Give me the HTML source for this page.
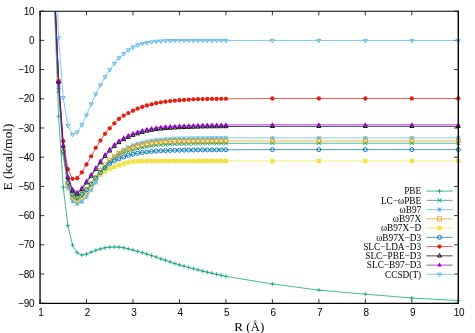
<!DOCTYPE html><html><head><meta charset="utf-8"><style>html,body{margin:0;padding:0;background:#fff}svg{display:block;will-change:transform}text{font-family:"Liberation Sans",sans-serif}.s{font-family:"Liberation Serif",serif}</style></head><body>
<svg width="475" height="333" viewBox="0 0 475 333">
<rect width="475" height="333" fill="#fff"/>
<defs><clipPath id="c"><rect x="40.0" y="11.15" width="418.3" height="292.1"/></clipPath></defs>
<path d="M40.00 303.25V299.05M40.00 11.15V15.350000000000001M86.48 303.25V299.05M86.48 11.15V15.350000000000001M132.96 303.25V299.05M132.96 11.15V15.350000000000001M179.43 303.25V299.05M179.43 11.15V15.350000000000001M225.91 303.25V299.05M225.91 11.15V15.350000000000001M272.39 303.25V299.05M272.39 11.15V15.350000000000001M318.87 303.25V299.05M318.87 11.15V15.350000000000001M365.34 303.25V299.05M365.34 11.15V15.350000000000001M411.82 303.25V299.05M411.82 11.15V15.350000000000001M458.30 303.25V299.05M458.30 11.15V15.350000000000001M40.0 303.25H44.2M458.3 303.25H454.1M40.0 274.04H44.2M458.3 274.04H454.1M40.0 244.83H44.2M458.3 244.83H454.1M40.0 215.62H44.2M458.3 215.62H454.1M40.0 186.41H44.2M458.3 186.41H454.1M40.0 157.20H44.2M458.3 157.20H454.1M40.0 127.99H44.2M458.3 127.99H454.1M40.0 98.78H44.2M458.3 98.78H454.1M40.0 69.57H44.2M458.3 69.57H454.1M40.0 40.36H44.2M458.3 40.36H454.1M40.0 11.15H44.2M458.3 11.15H454.1" stroke="#000" stroke-width="0.8" fill="none"/>
<text x="40.80" y="316.2" font-size="10" text-anchor="middle" letter-spacing="-0.3">1</text>
<text x="87.28" y="316.2" font-size="10" text-anchor="middle" letter-spacing="-0.3">2</text>
<text x="133.76" y="316.2" font-size="10" text-anchor="middle" letter-spacing="-0.3">3</text>
<text x="180.23" y="316.2" font-size="10" text-anchor="middle" letter-spacing="-0.3">4</text>
<text x="226.71" y="316.2" font-size="10" text-anchor="middle" letter-spacing="-0.3">5</text>
<text x="273.19" y="316.2" font-size="10" text-anchor="middle" letter-spacing="-0.3">6</text>
<text x="319.67" y="316.2" font-size="10" text-anchor="middle" letter-spacing="-0.3">7</text>
<text x="366.14" y="316.2" font-size="10" text-anchor="middle" letter-spacing="-0.3">8</text>
<text x="412.62" y="316.2" font-size="10" text-anchor="middle" letter-spacing="-0.3">9</text>
<text x="459.10" y="316.2" font-size="10" text-anchor="middle" letter-spacing="-0.3">10</text>
<text x="34.2" y="306.85" font-size="10" text-anchor="end" letter-spacing="-0.4">−90</text>
<text x="34.2" y="277.64" font-size="10" text-anchor="end" letter-spacing="-0.4">−80</text>
<text x="34.2" y="248.43" font-size="10" text-anchor="end" letter-spacing="-0.4">−70</text>
<text x="34.2" y="219.22" font-size="10" text-anchor="end" letter-spacing="-0.4">−60</text>
<text x="34.2" y="190.01" font-size="10" text-anchor="end" letter-spacing="-0.4">−50</text>
<text x="34.2" y="160.80" font-size="10" text-anchor="end" letter-spacing="-0.4">−40</text>
<text x="34.2" y="131.59" font-size="10" text-anchor="end" letter-spacing="-0.4">−30</text>
<text x="34.2" y="102.38" font-size="10" text-anchor="end" letter-spacing="-0.4">−20</text>
<text x="34.2" y="73.17" font-size="10" text-anchor="end" letter-spacing="-0.4">−10</text>
<text x="34.2" y="43.96" font-size="10" text-anchor="end" letter-spacing="-0.4">0</text>
<text x="34.2" y="14.75" font-size="10" text-anchor="end" letter-spacing="-0.4">10</text>
<g>
<polyline clip-path="url(#c)" points="53.94,-6.38 58.59,116.31 63.24,187.29 67.89,225.55 72.53,245.12 77.18,252.72 81.83,255.05 86.48,254.18 91.13,252.13 95.77,250.38 100.42,248.92 105.07,247.75 109.72,247.17 114.36,247.02 119.01,247.17 123.66,247.75 128.31,248.92 132.96,250.09 137.60,251.26 142.25,252.72 146.90,254.18 151.55,255.64 156.19,257.10 160.84,258.85 165.49,260.31 170.14,261.92 174.79,263.52 179.43,264.98 184.08,266.21 188.73,267.44 193.38,268.67 198.02,269.89 202.67,271.12 207.32,272.17 211.97,273.22 216.62,274.27 221.26,275.33 225.91,276.38 272.39,283.97 318.87,290.11 365.34,294.19 411.82,297.99 458.30,300.62" fill="none" stroke="#009e73" stroke-width="0.72" stroke-linejoin="round"/>
<path d="M56.39 116.31H60.79M58.59 114.11V118.51" stroke="#009e73" stroke-width="0.75" fill="none"/>
<path d="M61.04 187.29H65.44M63.24 185.09V189.49" stroke="#009e73" stroke-width="0.75" fill="none"/>
<path d="M65.69 225.55H70.09M67.89 223.35V227.75" stroke="#009e73" stroke-width="0.75" fill="none"/>
<path d="M70.33 245.12H74.73M72.53 242.92V247.32" stroke="#009e73" stroke-width="0.75" fill="none"/>
<path d="M74.98 252.72H79.38M77.18 250.52V254.92" stroke="#009e73" stroke-width="0.75" fill="none"/>
<path d="M79.63 255.05H84.03M81.83 252.85V257.25" stroke="#009e73" stroke-width="0.75" fill="none"/>
<path d="M84.28 254.18H88.68M86.48 251.98V256.38" stroke="#009e73" stroke-width="0.75" fill="none"/>
<path d="M88.93 252.13H93.33M91.13 249.93V254.33" stroke="#009e73" stroke-width="0.75" fill="none"/>
<path d="M93.57 250.38H97.97M95.77 248.18V252.58" stroke="#009e73" stroke-width="0.75" fill="none"/>
<path d="M98.22 248.92H102.62M100.42 246.72V251.12" stroke="#009e73" stroke-width="0.75" fill="none"/>
<path d="M102.87 247.75H107.27M105.07 245.55V249.95" stroke="#009e73" stroke-width="0.75" fill="none"/>
<path d="M107.52 247.17H111.92M109.72 244.97V249.37" stroke="#009e73" stroke-width="0.75" fill="none"/>
<path d="M112.16 247.02H116.56M114.36 244.82V249.22" stroke="#009e73" stroke-width="0.75" fill="none"/>
<path d="M116.81 247.17H121.21M119.01 244.97V249.37" stroke="#009e73" stroke-width="0.75" fill="none"/>
<path d="M121.46 247.75H125.86M123.66 245.55V249.95" stroke="#009e73" stroke-width="0.75" fill="none"/>
<path d="M126.11 248.92H130.51M128.31 246.72V251.12" stroke="#009e73" stroke-width="0.75" fill="none"/>
<path d="M130.76 250.09H135.16M132.96 247.89V252.29" stroke="#009e73" stroke-width="0.75" fill="none"/>
<path d="M135.40 251.26H139.80M137.60 249.06V253.46" stroke="#009e73" stroke-width="0.75" fill="none"/>
<path d="M140.05 252.72H144.45M142.25 250.52V254.92" stroke="#009e73" stroke-width="0.75" fill="none"/>
<path d="M144.70 254.18H149.10M146.90 251.98V256.38" stroke="#009e73" stroke-width="0.75" fill="none"/>
<path d="M149.35 255.64H153.75M151.55 253.44V257.84" stroke="#009e73" stroke-width="0.75" fill="none"/>
<path d="M153.99 257.10H158.39M156.19 254.90V259.30" stroke="#009e73" stroke-width="0.75" fill="none"/>
<path d="M158.64 258.85H163.04M160.84 256.65V261.05" stroke="#009e73" stroke-width="0.75" fill="none"/>
<path d="M163.29 260.31H167.69M165.49 258.11V262.51" stroke="#009e73" stroke-width="0.75" fill="none"/>
<path d="M167.94 261.92H172.34M170.14 259.72V264.12" stroke="#009e73" stroke-width="0.75" fill="none"/>
<path d="M172.59 263.52H176.99M174.79 261.32V265.72" stroke="#009e73" stroke-width="0.75" fill="none"/>
<path d="M177.23 264.98H181.63M179.43 262.78V267.18" stroke="#009e73" stroke-width="0.75" fill="none"/>
<path d="M181.88 266.21H186.28M184.08 264.01V268.41" stroke="#009e73" stroke-width="0.75" fill="none"/>
<path d="M186.53 267.44H190.93M188.73 265.24V269.64" stroke="#009e73" stroke-width="0.75" fill="none"/>
<path d="M191.18 268.67H195.58M193.38 266.47V270.87" stroke="#009e73" stroke-width="0.75" fill="none"/>
<path d="M195.82 269.89H200.22M198.02 267.69V272.09" stroke="#009e73" stroke-width="0.75" fill="none"/>
<path d="M200.47 271.12H204.87M202.67 268.92V273.32" stroke="#009e73" stroke-width="0.75" fill="none"/>
<path d="M205.12 272.17H209.52M207.32 269.97V274.37" stroke="#009e73" stroke-width="0.75" fill="none"/>
<path d="M209.77 273.22H214.17M211.97 271.02V275.42" stroke="#009e73" stroke-width="0.75" fill="none"/>
<path d="M214.42 274.27H218.82M216.62 272.07V276.47" stroke="#009e73" stroke-width="0.75" fill="none"/>
<path d="M219.06 275.33H223.46M221.26 273.13V277.53" stroke="#009e73" stroke-width="0.75" fill="none"/>
<path d="M223.71 276.38H228.11M225.91 274.18V278.58" stroke="#009e73" stroke-width="0.75" fill="none"/>
<path d="M270.19 283.97H274.59M272.39 281.77V286.17" stroke="#009e73" stroke-width="0.75" fill="none"/>
<path d="M316.67 290.11H321.07M318.87 287.91V292.31" stroke="#009e73" stroke-width="0.75" fill="none"/>
<path d="M363.14 294.19H367.54M365.34 291.99V296.39" stroke="#009e73" stroke-width="0.75" fill="none"/>
<path d="M409.62 297.99H414.02M411.82 295.79V300.19" stroke="#009e73" stroke-width="0.75" fill="none"/>
<path d="M456.10 300.62H460.50M458.30 298.42V302.82" stroke="#009e73" stroke-width="0.75" fill="none"/>
<polyline clip-path="url(#c)" points="53.94,-12.22 58.59,90.60 63.24,154.28 67.89,184.95 72.53,197.51 77.18,199.85 81.83,196.93 86.48,192.25 91.13,183.49 95.77,177.06 100.42,171.22 105.07,165.96 109.72,161.58 114.36,158.08 119.01,155.16 123.66,152.82 128.31,151.36 132.96,149.90 137.60,148.73 142.25,147.56 146.90,146.68 151.55,145.81 156.19,145.22 160.84,144.79 165.49,144.49 170.14,144.20 174.79,144.06 179.43,143.91 184.08,143.82 188.73,143.73 193.38,143.65 198.02,143.56 202.67,143.47 207.32,143.44 211.97,143.41 216.62,143.38 221.26,143.35 225.91,143.33 272.39,143.18 318.87,143.18 365.34,143.18 411.82,143.18 458.30,143.18" fill="none" stroke="#009e73" stroke-width="0.72" stroke-linejoin="round"/>
<path d="M56.59 88.60L60.59 92.60M56.59 92.60L60.59 88.60" stroke="#009e73" stroke-width="0.95" fill="none"/>
<path d="M61.24 152.28L65.24 156.28M61.24 156.28L65.24 152.28" stroke="#009e73" stroke-width="0.95" fill="none"/>
<path d="M65.89 182.95L69.89 186.95M65.89 186.95L69.89 182.95" stroke="#009e73" stroke-width="0.95" fill="none"/>
<path d="M70.53 195.51L74.53 199.51M70.53 199.51L74.53 195.51" stroke="#009e73" stroke-width="0.95" fill="none"/>
<path d="M75.18 197.85L79.18 201.85M75.18 201.85L79.18 197.85" stroke="#009e73" stroke-width="0.95" fill="none"/>
<path d="M79.83 194.93L83.83 198.93M79.83 198.93L83.83 194.93" stroke="#009e73" stroke-width="0.95" fill="none"/>
<path d="M84.48 190.25L88.48 194.25M84.48 194.25L88.48 190.25" stroke="#009e73" stroke-width="0.95" fill="none"/>
<path d="M89.13 181.49L93.13 185.49M89.13 185.49L93.13 181.49" stroke="#009e73" stroke-width="0.95" fill="none"/>
<path d="M93.77 175.06L97.77 179.06M93.77 179.06L97.77 175.06" stroke="#009e73" stroke-width="0.95" fill="none"/>
<path d="M98.42 169.22L102.42 173.22M98.42 173.22L102.42 169.22" stroke="#009e73" stroke-width="0.95" fill="none"/>
<path d="M103.07 163.96L107.07 167.96M103.07 167.96L107.07 163.96" stroke="#009e73" stroke-width="0.95" fill="none"/>
<path d="M107.72 159.58L111.72 163.58M107.72 163.58L111.72 159.58" stroke="#009e73" stroke-width="0.95" fill="none"/>
<path d="M112.36 156.08L116.36 160.08M112.36 160.08L116.36 156.08" stroke="#009e73" stroke-width="0.95" fill="none"/>
<path d="M117.01 153.16L121.01 157.16M117.01 157.16L121.01 153.16" stroke="#009e73" stroke-width="0.95" fill="none"/>
<path d="M121.66 150.82L125.66 154.82M121.66 154.82L125.66 150.82" stroke="#009e73" stroke-width="0.95" fill="none"/>
<path d="M126.31 149.36L130.31 153.36M126.31 153.36L130.31 149.36" stroke="#009e73" stroke-width="0.95" fill="none"/>
<path d="M130.96 147.90L134.96 151.90M130.96 151.90L134.96 147.90" stroke="#009e73" stroke-width="0.95" fill="none"/>
<path d="M135.60 146.73L139.60 150.73M135.60 150.73L139.60 146.73" stroke="#009e73" stroke-width="0.95" fill="none"/>
<path d="M140.25 145.56L144.25 149.56M140.25 149.56L144.25 145.56" stroke="#009e73" stroke-width="0.95" fill="none"/>
<path d="M144.90 144.68L148.90 148.68M144.90 148.68L148.90 144.68" stroke="#009e73" stroke-width="0.95" fill="none"/>
<path d="M149.55 143.81L153.55 147.81M149.55 147.81L153.55 143.81" stroke="#009e73" stroke-width="0.95" fill="none"/>
<path d="M154.19 143.22L158.19 147.22M154.19 147.22L158.19 143.22" stroke="#009e73" stroke-width="0.95" fill="none"/>
<path d="M158.84 142.79L162.84 146.79M158.84 146.79L162.84 142.79" stroke="#009e73" stroke-width="0.95" fill="none"/>
<path d="M163.49 142.49L167.49 146.49M163.49 146.49L167.49 142.49" stroke="#009e73" stroke-width="0.95" fill="none"/>
<path d="M168.14 142.20L172.14 146.20M168.14 146.20L172.14 142.20" stroke="#009e73" stroke-width="0.95" fill="none"/>
<path d="M172.79 142.06L176.79 146.06M172.79 146.06L176.79 142.06" stroke="#009e73" stroke-width="0.95" fill="none"/>
<path d="M177.43 141.91L181.43 145.91M177.43 145.91L181.43 141.91" stroke="#009e73" stroke-width="0.95" fill="none"/>
<path d="M182.08 141.82L186.08 145.82M182.08 145.82L186.08 141.82" stroke="#009e73" stroke-width="0.95" fill="none"/>
<path d="M186.73 141.73L190.73 145.73M186.73 145.73L190.73 141.73" stroke="#009e73" stroke-width="0.95" fill="none"/>
<path d="M191.38 141.65L195.38 145.65M191.38 145.65L195.38 141.65" stroke="#009e73" stroke-width="0.95" fill="none"/>
<path d="M196.02 141.56L200.02 145.56M196.02 145.56L200.02 141.56" stroke="#009e73" stroke-width="0.95" fill="none"/>
<path d="M200.67 141.47L204.67 145.47M200.67 145.47L204.67 141.47" stroke="#009e73" stroke-width="0.95" fill="none"/>
<path d="M205.32 141.44L209.32 145.44M205.32 145.44L209.32 141.44" stroke="#009e73" stroke-width="0.95" fill="none"/>
<path d="M209.97 141.41L213.97 145.41M209.97 145.41L213.97 141.41" stroke="#009e73" stroke-width="0.95" fill="none"/>
<path d="M214.62 141.38L218.62 145.38M214.62 145.38L218.62 141.38" stroke="#009e73" stroke-width="0.95" fill="none"/>
<path d="M219.26 141.35L223.26 145.35M219.26 145.35L223.26 141.35" stroke="#009e73" stroke-width="0.95" fill="none"/>
<path d="M223.91 141.33L227.91 145.33M223.91 145.33L227.91 141.33" stroke="#009e73" stroke-width="0.95" fill="none"/>
<path d="M270.39 141.18L274.39 145.18M270.39 145.18L274.39 141.18" stroke="#009e73" stroke-width="0.95" fill="none"/>
<path d="M316.87 141.18L320.87 145.18M316.87 145.18L320.87 141.18" stroke="#009e73" stroke-width="0.95" fill="none"/>
<path d="M363.34 141.18L367.34 145.18M363.34 145.18L367.34 141.18" stroke="#009e73" stroke-width="0.95" fill="none"/>
<path d="M409.82 141.18L413.82 145.18M409.82 145.18L413.82 141.18" stroke="#009e73" stroke-width="0.95" fill="none"/>
<path d="M456.30 141.18L460.30 145.18M456.30 145.18L460.30 141.18" stroke="#009e73" stroke-width="0.95" fill="none"/>
<polyline clip-path="url(#c)" points="53.94,-18.06 58.59,87.10 63.24,154.28 67.89,187.87 72.53,201.31 77.18,203.94 81.83,201.89 86.48,196.93 91.13,190.21 95.77,182.61 100.42,174.73 105.07,167.72 109.72,161.87 114.36,157.20 119.01,153.11 123.66,149.90 128.31,147.27 132.96,145.22 137.60,143.76 142.25,142.60 146.90,141.43 151.55,140.70 156.19,139.97 160.84,139.53 165.49,139.09 170.14,138.80 174.79,138.51 179.43,138.36 184.08,138.30 188.73,138.24 193.38,138.18 198.02,138.13 202.67,138.07 207.32,138.04 211.97,138.01 216.62,137.98 221.26,137.95 225.91,137.92 272.39,137.92 318.87,137.92 365.34,137.92 411.82,137.92 458.30,137.92" fill="none" stroke="#56b4e9" stroke-width="0.72" stroke-linejoin="round"/>
<path d="M56.59 87.10H60.59M58.59 85.10V89.10M56.59 85.10L60.59 89.10M56.59 89.10L60.59 85.10" stroke="#56b4e9" stroke-width="0.95" fill="none"/>
<path d="M61.24 154.28H65.24M63.24 152.28V156.28M61.24 152.28L65.24 156.28M61.24 156.28L65.24 152.28" stroke="#56b4e9" stroke-width="0.95" fill="none"/>
<path d="M65.89 187.87H69.89M67.89 185.87V189.87M65.89 185.87L69.89 189.87M65.89 189.87L69.89 185.87" stroke="#56b4e9" stroke-width="0.95" fill="none"/>
<path d="M70.53 201.31H74.53M72.53 199.31V203.31M70.53 199.31L74.53 203.31M70.53 203.31L74.53 199.31" stroke="#56b4e9" stroke-width="0.95" fill="none"/>
<path d="M75.18 203.94H79.18M77.18 201.94V205.94M75.18 201.94L79.18 205.94M75.18 205.94L79.18 201.94" stroke="#56b4e9" stroke-width="0.95" fill="none"/>
<path d="M79.83 201.89H83.83M81.83 199.89V203.89M79.83 199.89L83.83 203.89M79.83 203.89L83.83 199.89" stroke="#56b4e9" stroke-width="0.95" fill="none"/>
<path d="M84.48 196.93H88.48M86.48 194.93V198.93M84.48 194.93L88.48 198.93M84.48 198.93L88.48 194.93" stroke="#56b4e9" stroke-width="0.95" fill="none"/>
<path d="M89.13 190.21H93.13M91.13 188.21V192.21M89.13 188.21L93.13 192.21M89.13 192.21L93.13 188.21" stroke="#56b4e9" stroke-width="0.95" fill="none"/>
<path d="M93.77 182.61H97.77M95.77 180.61V184.61M93.77 180.61L97.77 184.61M93.77 184.61L97.77 180.61" stroke="#56b4e9" stroke-width="0.95" fill="none"/>
<path d="M98.42 174.73H102.42M100.42 172.73V176.73M98.42 172.73L102.42 176.73M98.42 176.73L102.42 172.73" stroke="#56b4e9" stroke-width="0.95" fill="none"/>
<path d="M103.07 167.72H107.07M105.07 165.72V169.72M103.07 165.72L107.07 169.72M103.07 169.72L107.07 165.72" stroke="#56b4e9" stroke-width="0.95" fill="none"/>
<path d="M107.72 161.87H111.72M109.72 159.87V163.87M107.72 159.87L111.72 163.87M107.72 163.87L111.72 159.87" stroke="#56b4e9" stroke-width="0.95" fill="none"/>
<path d="M112.36 157.20H116.36M114.36 155.20V159.20M112.36 155.20L116.36 159.20M112.36 159.20L116.36 155.20" stroke="#56b4e9" stroke-width="0.95" fill="none"/>
<path d="M117.01 153.11H121.01M119.01 151.11V155.11M117.01 151.11L121.01 155.11M117.01 155.11L121.01 151.11" stroke="#56b4e9" stroke-width="0.95" fill="none"/>
<path d="M121.66 149.90H125.66M123.66 147.90V151.90M121.66 147.90L125.66 151.90M121.66 151.90L125.66 147.90" stroke="#56b4e9" stroke-width="0.95" fill="none"/>
<path d="M126.31 147.27H130.31M128.31 145.27V149.27M126.31 145.27L130.31 149.27M126.31 149.27L130.31 145.27" stroke="#56b4e9" stroke-width="0.95" fill="none"/>
<path d="M130.96 145.22H134.96M132.96 143.22V147.22M130.96 143.22L134.96 147.22M130.96 147.22L134.96 143.22" stroke="#56b4e9" stroke-width="0.95" fill="none"/>
<path d="M135.60 143.76H139.60M137.60 141.76V145.76M135.60 141.76L139.60 145.76M135.60 145.76L139.60 141.76" stroke="#56b4e9" stroke-width="0.95" fill="none"/>
<path d="M140.25 142.60H144.25M142.25 140.60V144.60M140.25 140.60L144.25 144.60M140.25 144.60L144.25 140.60" stroke="#56b4e9" stroke-width="0.95" fill="none"/>
<path d="M144.90 141.43H148.90M146.90 139.43V143.43M144.90 139.43L148.90 143.43M144.90 143.43L148.90 139.43" stroke="#56b4e9" stroke-width="0.95" fill="none"/>
<path d="M149.55 140.70H153.55M151.55 138.70V142.70M149.55 138.70L153.55 142.70M149.55 142.70L153.55 138.70" stroke="#56b4e9" stroke-width="0.95" fill="none"/>
<path d="M154.19 139.97H158.19M156.19 137.97V141.97M154.19 137.97L158.19 141.97M154.19 141.97L158.19 137.97" stroke="#56b4e9" stroke-width="0.95" fill="none"/>
<path d="M158.84 139.53H162.84M160.84 137.53V141.53M158.84 137.53L162.84 141.53M158.84 141.53L162.84 137.53" stroke="#56b4e9" stroke-width="0.95" fill="none"/>
<path d="M163.49 139.09H167.49M165.49 137.09V141.09M163.49 137.09L167.49 141.09M163.49 141.09L167.49 137.09" stroke="#56b4e9" stroke-width="0.95" fill="none"/>
<path d="M168.14 138.80H172.14M170.14 136.80V140.80M168.14 136.80L172.14 140.80M168.14 140.80L172.14 136.80" stroke="#56b4e9" stroke-width="0.95" fill="none"/>
<path d="M172.79 138.51H176.79M174.79 136.51V140.51M172.79 136.51L176.79 140.51M172.79 140.51L176.79 136.51" stroke="#56b4e9" stroke-width="0.95" fill="none"/>
<path d="M177.43 138.36H181.43M179.43 136.36V140.36M177.43 136.36L181.43 140.36M177.43 140.36L181.43 136.36" stroke="#56b4e9" stroke-width="0.95" fill="none"/>
<path d="M182.08 138.30H186.08M184.08 136.30V140.30M182.08 136.30L186.08 140.30M182.08 140.30L186.08 136.30" stroke="#56b4e9" stroke-width="0.95" fill="none"/>
<path d="M186.73 138.24H190.73M188.73 136.24V140.24M186.73 136.24L190.73 140.24M186.73 140.24L190.73 136.24" stroke="#56b4e9" stroke-width="0.95" fill="none"/>
<path d="M191.38 138.18H195.38M193.38 136.18V140.18M191.38 136.18L195.38 140.18M191.38 140.18L195.38 136.18" stroke="#56b4e9" stroke-width="0.95" fill="none"/>
<path d="M196.02 138.13H200.02M198.02 136.13V140.13M196.02 136.13L200.02 140.13M196.02 140.13L200.02 136.13" stroke="#56b4e9" stroke-width="0.95" fill="none"/>
<path d="M200.67 138.07H204.67M202.67 136.07V140.07M200.67 136.07L204.67 140.07M200.67 140.07L204.67 136.07" stroke="#56b4e9" stroke-width="0.95" fill="none"/>
<path d="M205.32 138.04H209.32M207.32 136.04V140.04M205.32 136.04L209.32 140.04M205.32 140.04L209.32 136.04" stroke="#56b4e9" stroke-width="0.95" fill="none"/>
<path d="M209.97 138.01H213.97M211.97 136.01V140.01M209.97 136.01L213.97 140.01M209.97 140.01L213.97 136.01" stroke="#56b4e9" stroke-width="0.95" fill="none"/>
<path d="M214.62 137.98H218.62M216.62 135.98V139.98M214.62 135.98L218.62 139.98M214.62 139.98L218.62 135.98" stroke="#56b4e9" stroke-width="0.95" fill="none"/>
<path d="M219.26 137.95H223.26M221.26 135.95V139.95M219.26 135.95L223.26 139.95M219.26 139.95L223.26 135.95" stroke="#56b4e9" stroke-width="0.95" fill="none"/>
<path d="M223.91 137.92H227.91M225.91 135.92V139.92M223.91 135.92L227.91 139.92M223.91 139.92L227.91 135.92" stroke="#56b4e9" stroke-width="0.95" fill="none"/>
<path d="M270.39 137.92H274.39M272.39 135.92V139.92M270.39 135.92L274.39 139.92M270.39 139.92L274.39 135.92" stroke="#56b4e9" stroke-width="0.95" fill="none"/>
<path d="M316.87 137.92H320.87M318.87 135.92V139.92M316.87 135.92L320.87 139.92M316.87 139.92L320.87 135.92" stroke="#56b4e9" stroke-width="0.95" fill="none"/>
<path d="M363.34 137.92H367.34M365.34 135.92V139.92M363.34 135.92L367.34 139.92M363.34 139.92L367.34 135.92" stroke="#56b4e9" stroke-width="0.95" fill="none"/>
<path d="M409.82 137.92H413.82M411.82 135.92V139.92M409.82 135.92L413.82 139.92M409.82 139.92L413.82 135.92" stroke="#56b4e9" stroke-width="0.95" fill="none"/>
<path d="M456.30 137.92H460.30M458.30 135.92V139.92M456.30 135.92L460.30 139.92M456.30 139.92L460.30 135.92" stroke="#56b4e9" stroke-width="0.95" fill="none"/>
<polyline clip-path="url(#c)" points="53.94,-20.98 58.59,81.25 63.24,151.36 67.89,184.95 72.53,197.22 77.18,200.43 81.83,197.51 86.48,192.25 91.13,185.24 95.77,177.65 100.42,170.64 105.07,164.79 109.72,160.12 114.36,156.62 119.01,153.40 123.66,151.07 128.31,148.73 132.96,147.27 137.60,145.81 142.25,144.64 146.90,143.76 151.55,143.03 156.19,142.45 160.84,142.01 165.49,141.72 170.14,141.43 174.79,141.28 179.43,141.13 184.08,141.11 188.73,141.08 193.38,141.05 198.02,141.02 202.67,140.99 207.32,140.96 211.97,140.93 216.62,140.90 221.26,140.87 225.91,140.84 272.39,140.84 318.87,140.84 365.34,140.84 411.82,140.84 458.30,140.84" fill="none" stroke="#e69f00" stroke-width="0.72" stroke-linejoin="round"/>
<rect x="56.59" y="79.25" width="4.00" height="4.00" stroke="#e69f00" stroke-width="0.75" fill="none"/><path d="M58.59 79.25V83.25" stroke="#e69f00" stroke-width="0.95" opacity="0"/>
<rect x="61.24" y="149.36" width="4.00" height="4.00" stroke="#e69f00" stroke-width="0.75" fill="none"/><path d="M63.24 149.36V153.36" stroke="#e69f00" stroke-width="0.95" opacity="0"/>
<rect x="65.89" y="182.95" width="4.00" height="4.00" stroke="#e69f00" stroke-width="0.75" fill="none"/><path d="M67.89 182.95V186.95" stroke="#e69f00" stroke-width="0.95" opacity="0"/>
<rect x="70.53" y="195.22" width="4.00" height="4.00" stroke="#e69f00" stroke-width="0.75" fill="none"/><path d="M72.53 195.22V199.22" stroke="#e69f00" stroke-width="0.95" opacity="0"/>
<rect x="75.18" y="198.43" width="4.00" height="4.00" stroke="#e69f00" stroke-width="0.75" fill="none"/><path d="M77.18 198.43V202.43" stroke="#e69f00" stroke-width="0.95" opacity="0"/>
<rect x="79.83" y="195.51" width="4.00" height="4.00" stroke="#e69f00" stroke-width="0.75" fill="none"/><path d="M81.83 195.51V199.51" stroke="#e69f00" stroke-width="0.95" opacity="0"/>
<rect x="84.48" y="190.25" width="4.00" height="4.00" stroke="#e69f00" stroke-width="0.75" fill="none"/><path d="M86.48 190.25V194.25" stroke="#e69f00" stroke-width="0.95" opacity="0"/>
<rect x="89.13" y="183.24" width="4.00" height="4.00" stroke="#e69f00" stroke-width="0.75" fill="none"/><path d="M91.13 183.24V187.24" stroke="#e69f00" stroke-width="0.95" opacity="0"/>
<rect x="93.77" y="175.65" width="4.00" height="4.00" stroke="#e69f00" stroke-width="0.75" fill="none"/><path d="M95.77 175.65V179.65" stroke="#e69f00" stroke-width="0.95" opacity="0"/>
<rect x="98.42" y="168.64" width="4.00" height="4.00" stroke="#e69f00" stroke-width="0.75" fill="none"/><path d="M100.42 168.64V172.64" stroke="#e69f00" stroke-width="0.95" opacity="0"/>
<rect x="103.07" y="162.79" width="4.00" height="4.00" stroke="#e69f00" stroke-width="0.75" fill="none"/><path d="M105.07 162.79V166.79" stroke="#e69f00" stroke-width="0.95" opacity="0"/>
<rect x="107.72" y="158.12" width="4.00" height="4.00" stroke="#e69f00" stroke-width="0.75" fill="none"/><path d="M109.72 158.12V162.12" stroke="#e69f00" stroke-width="0.95" opacity="0"/>
<rect x="112.36" y="154.62" width="4.00" height="4.00" stroke="#e69f00" stroke-width="0.75" fill="none"/><path d="M114.36 154.62V158.62" stroke="#e69f00" stroke-width="0.95" opacity="0"/>
<rect x="117.01" y="151.40" width="4.00" height="4.00" stroke="#e69f00" stroke-width="0.75" fill="none"/><path d="M119.01 151.40V155.40" stroke="#e69f00" stroke-width="0.95" opacity="0"/>
<rect x="121.66" y="149.07" width="4.00" height="4.00" stroke="#e69f00" stroke-width="0.75" fill="none"/><path d="M123.66 149.07V153.07" stroke="#e69f00" stroke-width="0.95" opacity="0"/>
<rect x="126.31" y="146.73" width="4.00" height="4.00" stroke="#e69f00" stroke-width="0.75" fill="none"/><path d="M128.31 146.73V150.73" stroke="#e69f00" stroke-width="0.95" opacity="0"/>
<rect x="130.96" y="145.27" width="4.00" height="4.00" stroke="#e69f00" stroke-width="0.75" fill="none"/><path d="M132.96 145.27V149.27" stroke="#e69f00" stroke-width="0.95" opacity="0"/>
<rect x="135.60" y="143.81" width="4.00" height="4.00" stroke="#e69f00" stroke-width="0.75" fill="none"/><path d="M137.60 143.81V147.81" stroke="#e69f00" stroke-width="0.95" opacity="0"/>
<rect x="140.25" y="142.64" width="4.00" height="4.00" stroke="#e69f00" stroke-width="0.75" fill="none"/><path d="M142.25 142.64V146.64" stroke="#e69f00" stroke-width="0.95" opacity="0"/>
<rect x="144.90" y="141.76" width="4.00" height="4.00" stroke="#e69f00" stroke-width="0.75" fill="none"/><path d="M146.90 141.76V145.76" stroke="#e69f00" stroke-width="0.95" opacity="0"/>
<rect x="149.55" y="141.03" width="4.00" height="4.00" stroke="#e69f00" stroke-width="0.75" fill="none"/><path d="M151.55 141.03V145.03" stroke="#e69f00" stroke-width="0.95" opacity="0"/>
<rect x="154.19" y="140.45" width="4.00" height="4.00" stroke="#e69f00" stroke-width="0.75" fill="none"/><path d="M156.19 140.45V144.45" stroke="#e69f00" stroke-width="0.95" opacity="0"/>
<rect x="158.84" y="140.01" width="4.00" height="4.00" stroke="#e69f00" stroke-width="0.75" fill="none"/><path d="M160.84 140.01V144.01" stroke="#e69f00" stroke-width="0.95" opacity="0"/>
<rect x="163.49" y="139.72" width="4.00" height="4.00" stroke="#e69f00" stroke-width="0.75" fill="none"/><path d="M165.49 139.72V143.72" stroke="#e69f00" stroke-width="0.95" opacity="0"/>
<rect x="168.14" y="139.43" width="4.00" height="4.00" stroke="#e69f00" stroke-width="0.75" fill="none"/><path d="M170.14 139.43V143.43" stroke="#e69f00" stroke-width="0.95" opacity="0"/>
<rect x="172.79" y="139.28" width="4.00" height="4.00" stroke="#e69f00" stroke-width="0.75" fill="none"/><path d="M174.79 139.28V143.28" stroke="#e69f00" stroke-width="0.95" opacity="0"/>
<rect x="177.43" y="139.13" width="4.00" height="4.00" stroke="#e69f00" stroke-width="0.75" fill="none"/><path d="M179.43 139.13V143.13" stroke="#e69f00" stroke-width="0.95" opacity="0"/>
<rect x="182.08" y="139.11" width="4.00" height="4.00" stroke="#e69f00" stroke-width="0.75" fill="none"/><path d="M184.08 139.11V143.11" stroke="#e69f00" stroke-width="0.95" opacity="0"/>
<rect x="186.73" y="139.08" width="4.00" height="4.00" stroke="#e69f00" stroke-width="0.75" fill="none"/><path d="M188.73 139.08V143.08" stroke="#e69f00" stroke-width="0.95" opacity="0"/>
<rect x="191.38" y="139.05" width="4.00" height="4.00" stroke="#e69f00" stroke-width="0.75" fill="none"/><path d="M193.38 139.05V143.05" stroke="#e69f00" stroke-width="0.95" opacity="0"/>
<rect x="196.02" y="139.02" width="4.00" height="4.00" stroke="#e69f00" stroke-width="0.75" fill="none"/><path d="M198.02 139.02V143.02" stroke="#e69f00" stroke-width="0.95" opacity="0"/>
<rect x="200.67" y="138.99" width="4.00" height="4.00" stroke="#e69f00" stroke-width="0.75" fill="none"/><path d="M202.67 138.99V142.99" stroke="#e69f00" stroke-width="0.95" opacity="0"/>
<rect x="205.32" y="138.96" width="4.00" height="4.00" stroke="#e69f00" stroke-width="0.75" fill="none"/><path d="M207.32 138.96V142.96" stroke="#e69f00" stroke-width="0.95" opacity="0"/>
<rect x="209.97" y="138.93" width="4.00" height="4.00" stroke="#e69f00" stroke-width="0.75" fill="none"/><path d="M211.97 138.93V142.93" stroke="#e69f00" stroke-width="0.95" opacity="0"/>
<rect x="214.62" y="138.90" width="4.00" height="4.00" stroke="#e69f00" stroke-width="0.75" fill="none"/><path d="M216.62 138.90V142.90" stroke="#e69f00" stroke-width="0.95" opacity="0"/>
<rect x="219.26" y="138.87" width="4.00" height="4.00" stroke="#e69f00" stroke-width="0.75" fill="none"/><path d="M221.26 138.87V142.87" stroke="#e69f00" stroke-width="0.95" opacity="0"/>
<rect x="223.91" y="138.84" width="4.00" height="4.00" stroke="#e69f00" stroke-width="0.75" fill="none"/><path d="M225.91 138.84V142.84" stroke="#e69f00" stroke-width="0.95" opacity="0"/>
<rect x="270.39" y="138.84" width="4.00" height="4.00" stroke="#e69f00" stroke-width="0.75" fill="none"/><path d="M272.39 138.84V142.84" stroke="#e69f00" stroke-width="0.95" opacity="0"/>
<rect x="316.87" y="138.84" width="4.00" height="4.00" stroke="#e69f00" stroke-width="0.75" fill="none"/><path d="M318.87 138.84V142.84" stroke="#e69f00" stroke-width="0.95" opacity="0"/>
<rect x="363.34" y="138.84" width="4.00" height="4.00" stroke="#e69f00" stroke-width="0.75" fill="none"/><path d="M365.34 138.84V142.84" stroke="#e69f00" stroke-width="0.95" opacity="0"/>
<rect x="409.82" y="138.84" width="4.00" height="4.00" stroke="#e69f00" stroke-width="0.75" fill="none"/><path d="M411.82 138.84V142.84" stroke="#e69f00" stroke-width="0.95" opacity="0"/>
<rect x="456.30" y="138.84" width="4.00" height="4.00" stroke="#e69f00" stroke-width="0.75" fill="none"/><path d="M458.30 138.84V142.84" stroke="#e69f00" stroke-width="0.95" opacity="0"/>
<polyline clip-path="url(#c)" points="53.94,-20.98 58.59,80.38 63.24,149.90 67.89,182.03 72.53,193.42 77.18,196.34 81.83,193.42 86.48,189.04 91.13,183.49 95.77,177.94 100.42,174.43 105.07,171.51 109.72,168.88 114.36,166.84 119.01,165.09 123.66,163.63 128.31,162.46 132.96,161.58 137.60,161.29 142.25,161.14 146.90,161.00 151.55,161.00 156.19,161.00 160.84,161.00 165.49,161.00 170.14,161.00 174.79,161.00 179.43,161.00 184.08,161.00 188.73,161.00 193.38,161.00 198.02,161.00 202.67,161.00 207.32,161.00 211.97,161.00 216.62,161.00 221.26,161.00 225.91,161.00 272.39,161.00 318.87,161.00 365.34,161.00 411.82,161.00 458.30,161.00" fill="none" stroke="#f0e442" stroke-width="0.72" stroke-linejoin="round"/>
<rect x="56.39" y="78.18" width="4.40" height="4.40" fill="#f0e442"/>
<rect x="61.04" y="147.70" width="4.40" height="4.40" fill="#f0e442"/>
<rect x="65.69" y="179.83" width="4.40" height="4.40" fill="#f0e442"/>
<rect x="70.33" y="191.22" width="4.40" height="4.40" fill="#f0e442"/>
<rect x="74.98" y="194.14" width="4.40" height="4.40" fill="#f0e442"/>
<rect x="79.63" y="191.22" width="4.40" height="4.40" fill="#f0e442"/>
<rect x="84.28" y="186.84" width="4.40" height="4.40" fill="#f0e442"/>
<rect x="88.93" y="181.29" width="4.40" height="4.40" fill="#f0e442"/>
<rect x="93.57" y="175.74" width="4.40" height="4.40" fill="#f0e442"/>
<rect x="98.22" y="172.23" width="4.40" height="4.40" fill="#f0e442"/>
<rect x="102.87" y="169.31" width="4.40" height="4.40" fill="#f0e442"/>
<rect x="107.52" y="166.68" width="4.40" height="4.40" fill="#f0e442"/>
<rect x="112.16" y="164.64" width="4.40" height="4.40" fill="#f0e442"/>
<rect x="116.81" y="162.89" width="4.40" height="4.40" fill="#f0e442"/>
<rect x="121.46" y="161.43" width="4.40" height="4.40" fill="#f0e442"/>
<rect x="126.11" y="160.26" width="4.40" height="4.40" fill="#f0e442"/>
<rect x="130.76" y="159.38" width="4.40" height="4.40" fill="#f0e442"/>
<rect x="135.40" y="159.09" width="4.40" height="4.40" fill="#f0e442"/>
<rect x="140.05" y="158.94" width="4.40" height="4.40" fill="#f0e442"/>
<rect x="144.70" y="158.80" width="4.40" height="4.40" fill="#f0e442"/>
<rect x="149.35" y="158.80" width="4.40" height="4.40" fill="#f0e442"/>
<rect x="153.99" y="158.80" width="4.40" height="4.40" fill="#f0e442"/>
<rect x="158.64" y="158.80" width="4.40" height="4.40" fill="#f0e442"/>
<rect x="163.29" y="158.80" width="4.40" height="4.40" fill="#f0e442"/>
<rect x="167.94" y="158.80" width="4.40" height="4.40" fill="#f0e442"/>
<rect x="172.59" y="158.80" width="4.40" height="4.40" fill="#f0e442"/>
<rect x="177.23" y="158.80" width="4.40" height="4.40" fill="#f0e442"/>
<rect x="181.88" y="158.80" width="4.40" height="4.40" fill="#f0e442"/>
<rect x="186.53" y="158.80" width="4.40" height="4.40" fill="#f0e442"/>
<rect x="191.18" y="158.80" width="4.40" height="4.40" fill="#f0e442"/>
<rect x="195.82" y="158.80" width="4.40" height="4.40" fill="#f0e442"/>
<rect x="200.47" y="158.80" width="4.40" height="4.40" fill="#f0e442"/>
<rect x="205.12" y="158.80" width="4.40" height="4.40" fill="#f0e442"/>
<rect x="209.77" y="158.80" width="4.40" height="4.40" fill="#f0e442"/>
<rect x="214.42" y="158.80" width="4.40" height="4.40" fill="#f0e442"/>
<rect x="219.06" y="158.80" width="4.40" height="4.40" fill="#f0e442"/>
<rect x="223.71" y="158.80" width="4.40" height="4.40" fill="#f0e442"/>
<rect x="270.19" y="158.80" width="4.40" height="4.40" fill="#f0e442"/>
<rect x="316.67" y="158.80" width="4.40" height="4.40" fill="#f0e442"/>
<rect x="363.14" y="158.80" width="4.40" height="4.40" fill="#f0e442"/>
<rect x="409.62" y="158.80" width="4.40" height="4.40" fill="#f0e442"/>
<rect x="456.10" y="158.80" width="4.40" height="4.40" fill="#f0e442"/>
<polyline clip-path="url(#c)" points="53.94,-20.98 58.59,82.42 63.24,151.36 67.89,182.61 72.53,194.00 77.18,196.93 81.83,194.00 86.48,189.62 91.13,184.07 95.77,178.23 100.42,172.68 105.07,168.01 109.72,163.92 114.36,161.00 119.01,158.95 123.66,157.05 128.31,155.45 132.96,154.13 137.60,153.26 142.25,152.53 146.90,151.94 151.55,151.50 156.19,151.07 160.84,150.77 165.49,150.63 170.14,150.48 174.79,150.34 179.43,150.19 184.08,150.13 188.73,150.07 193.38,150.01 198.02,149.96 202.67,149.90 207.32,149.87 211.97,149.84 216.62,149.81 221.26,149.78 225.91,149.75 272.39,149.61 318.87,149.61 365.34,149.61 411.82,149.61 458.30,149.61" fill="none" stroke="#0072b2" stroke-width="0.72" stroke-linejoin="round"/>
<circle cx="58.59" cy="82.42" r="2.00" stroke="#0072b2" stroke-width="0.95" fill="none"/>
<circle cx="63.24" cy="151.36" r="2.00" stroke="#0072b2" stroke-width="0.95" fill="none"/>
<circle cx="67.89" cy="182.61" r="2.00" stroke="#0072b2" stroke-width="0.95" fill="none"/>
<circle cx="72.53" cy="194.00" r="2.00" stroke="#0072b2" stroke-width="0.95" fill="none"/>
<circle cx="77.18" cy="196.93" r="2.00" stroke="#0072b2" stroke-width="0.95" fill="none"/>
<circle cx="81.83" cy="194.00" r="2.00" stroke="#0072b2" stroke-width="0.95" fill="none"/>
<circle cx="86.48" cy="189.62" r="2.00" stroke="#0072b2" stroke-width="0.95" fill="none"/>
<circle cx="91.13" cy="184.07" r="2.00" stroke="#0072b2" stroke-width="0.95" fill="none"/>
<circle cx="95.77" cy="178.23" r="2.00" stroke="#0072b2" stroke-width="0.95" fill="none"/>
<circle cx="100.42" cy="172.68" r="2.00" stroke="#0072b2" stroke-width="0.95" fill="none"/>
<circle cx="105.07" cy="168.01" r="2.00" stroke="#0072b2" stroke-width="0.95" fill="none"/>
<circle cx="109.72" cy="163.92" r="2.00" stroke="#0072b2" stroke-width="0.95" fill="none"/>
<circle cx="114.36" cy="161.00" r="2.00" stroke="#0072b2" stroke-width="0.95" fill="none"/>
<circle cx="119.01" cy="158.95" r="2.00" stroke="#0072b2" stroke-width="0.95" fill="none"/>
<circle cx="123.66" cy="157.05" r="2.00" stroke="#0072b2" stroke-width="0.95" fill="none"/>
<circle cx="128.31" cy="155.45" r="2.00" stroke="#0072b2" stroke-width="0.95" fill="none"/>
<circle cx="132.96" cy="154.13" r="2.00" stroke="#0072b2" stroke-width="0.95" fill="none"/>
<circle cx="137.60" cy="153.26" r="2.00" stroke="#0072b2" stroke-width="0.95" fill="none"/>
<circle cx="142.25" cy="152.53" r="2.00" stroke="#0072b2" stroke-width="0.95" fill="none"/>
<circle cx="146.90" cy="151.94" r="2.00" stroke="#0072b2" stroke-width="0.95" fill="none"/>
<circle cx="151.55" cy="151.50" r="2.00" stroke="#0072b2" stroke-width="0.95" fill="none"/>
<circle cx="156.19" cy="151.07" r="2.00" stroke="#0072b2" stroke-width="0.95" fill="none"/>
<circle cx="160.84" cy="150.77" r="2.00" stroke="#0072b2" stroke-width="0.95" fill="none"/>
<circle cx="165.49" cy="150.63" r="2.00" stroke="#0072b2" stroke-width="0.95" fill="none"/>
<circle cx="170.14" cy="150.48" r="2.00" stroke="#0072b2" stroke-width="0.95" fill="none"/>
<circle cx="174.79" cy="150.34" r="2.00" stroke="#0072b2" stroke-width="0.95" fill="none"/>
<circle cx="179.43" cy="150.19" r="2.00" stroke="#0072b2" stroke-width="0.95" fill="none"/>
<circle cx="184.08" cy="150.13" r="2.00" stroke="#0072b2" stroke-width="0.95" fill="none"/>
<circle cx="188.73" cy="150.07" r="2.00" stroke="#0072b2" stroke-width="0.95" fill="none"/>
<circle cx="193.38" cy="150.01" r="2.00" stroke="#0072b2" stroke-width="0.95" fill="none"/>
<circle cx="198.02" cy="149.96" r="2.00" stroke="#0072b2" stroke-width="0.95" fill="none"/>
<circle cx="202.67" cy="149.90" r="2.00" stroke="#0072b2" stroke-width="0.95" fill="none"/>
<circle cx="207.32" cy="149.87" r="2.00" stroke="#0072b2" stroke-width="0.95" fill="none"/>
<circle cx="211.97" cy="149.84" r="2.00" stroke="#0072b2" stroke-width="0.95" fill="none"/>
<circle cx="216.62" cy="149.81" r="2.00" stroke="#0072b2" stroke-width="0.95" fill="none"/>
<circle cx="221.26" cy="149.78" r="2.00" stroke="#0072b2" stroke-width="0.95" fill="none"/>
<circle cx="225.91" cy="149.75" r="2.00" stroke="#0072b2" stroke-width="0.95" fill="none"/>
<circle cx="272.39" cy="149.61" r="2.00" stroke="#0072b2" stroke-width="0.95" fill="none"/>
<circle cx="318.87" cy="149.61" r="2.00" stroke="#0072b2" stroke-width="0.95" fill="none"/>
<circle cx="365.34" cy="149.61" r="2.00" stroke="#0072b2" stroke-width="0.95" fill="none"/>
<circle cx="411.82" cy="149.61" r="2.00" stroke="#0072b2" stroke-width="0.95" fill="none"/>
<circle cx="458.30" cy="149.61" r="2.00" stroke="#0072b2" stroke-width="0.95" fill="none"/>
<polyline clip-path="url(#c)" points="53.94,-23.90 58.59,81.25 63.24,141.13 67.89,169.18 72.53,178.82 77.18,178.23 81.83,172.39 86.48,164.50 91.13,156.32 95.77,147.85 100.42,140.55 105.07,133.83 109.72,128.28 114.36,123.32 119.01,118.93 123.66,115.72 128.31,113.09 132.96,110.76 137.60,108.71 142.25,106.96 146.90,105.50 151.55,104.33 156.19,103.16 160.84,102.29 165.49,101.70 170.14,101.12 174.79,100.68 179.43,100.24 184.08,99.95 188.73,99.66 193.38,99.36 198.02,99.22 202.67,99.07 207.32,99.01 211.97,98.96 216.62,98.90 221.26,98.84 225.91,98.78 272.39,98.49 318.87,98.49 365.34,98.49 411.82,98.49 458.30,98.49" fill="none" stroke="#e51e10" stroke-width="0.72" stroke-linejoin="round"/>
<circle cx="58.59" cy="81.25" r="2.15" fill="#e51e10"/>
<circle cx="63.24" cy="141.13" r="2.15" fill="#e51e10"/>
<circle cx="67.89" cy="169.18" r="2.15" fill="#e51e10"/>
<circle cx="72.53" cy="178.82" r="2.15" fill="#e51e10"/>
<circle cx="77.18" cy="178.23" r="2.15" fill="#e51e10"/>
<circle cx="81.83" cy="172.39" r="2.15" fill="#e51e10"/>
<circle cx="86.48" cy="164.50" r="2.15" fill="#e51e10"/>
<circle cx="91.13" cy="156.32" r="2.15" fill="#e51e10"/>
<circle cx="95.77" cy="147.85" r="2.15" fill="#e51e10"/>
<circle cx="100.42" cy="140.55" r="2.15" fill="#e51e10"/>
<circle cx="105.07" cy="133.83" r="2.15" fill="#e51e10"/>
<circle cx="109.72" cy="128.28" r="2.15" fill="#e51e10"/>
<circle cx="114.36" cy="123.32" r="2.15" fill="#e51e10"/>
<circle cx="119.01" cy="118.93" r="2.15" fill="#e51e10"/>
<circle cx="123.66" cy="115.72" r="2.15" fill="#e51e10"/>
<circle cx="128.31" cy="113.09" r="2.15" fill="#e51e10"/>
<circle cx="132.96" cy="110.76" r="2.15" fill="#e51e10"/>
<circle cx="137.60" cy="108.71" r="2.15" fill="#e51e10"/>
<circle cx="142.25" cy="106.96" r="2.15" fill="#e51e10"/>
<circle cx="146.90" cy="105.50" r="2.15" fill="#e51e10"/>
<circle cx="151.55" cy="104.33" r="2.15" fill="#e51e10"/>
<circle cx="156.19" cy="103.16" r="2.15" fill="#e51e10"/>
<circle cx="160.84" cy="102.29" r="2.15" fill="#e51e10"/>
<circle cx="165.49" cy="101.70" r="2.15" fill="#e51e10"/>
<circle cx="170.14" cy="101.12" r="2.15" fill="#e51e10"/>
<circle cx="174.79" cy="100.68" r="2.15" fill="#e51e10"/>
<circle cx="179.43" cy="100.24" r="2.15" fill="#e51e10"/>
<circle cx="184.08" cy="99.95" r="2.15" fill="#e51e10"/>
<circle cx="188.73" cy="99.66" r="2.15" fill="#e51e10"/>
<circle cx="193.38" cy="99.36" r="2.15" fill="#e51e10"/>
<circle cx="198.02" cy="99.22" r="2.15" fill="#e51e10"/>
<circle cx="202.67" cy="99.07" r="2.15" fill="#e51e10"/>
<circle cx="207.32" cy="99.01" r="2.15" fill="#e51e10"/>
<circle cx="211.97" cy="98.96" r="2.15" fill="#e51e10"/>
<circle cx="216.62" cy="98.90" r="2.15" fill="#e51e10"/>
<circle cx="221.26" cy="98.84" r="2.15" fill="#e51e10"/>
<circle cx="225.91" cy="98.78" r="2.15" fill="#e51e10"/>
<circle cx="272.39" cy="98.49" r="2.15" fill="#e51e10"/>
<circle cx="318.87" cy="98.49" r="2.15" fill="#e51e10"/>
<circle cx="365.34" cy="98.49" r="2.15" fill="#e51e10"/>
<circle cx="411.82" cy="98.49" r="2.15" fill="#e51e10"/>
<circle cx="458.30" cy="98.49" r="2.15" fill="#e51e10"/>
<polyline clip-path="url(#c)" points="53.94,-23.32 58.59,81.84 63.24,146.10 67.89,177.79 72.53,190.94 77.18,193.86 81.83,189.48 86.48,182.76 91.13,176.04 95.77,169.32 100.42,162.60 105.07,156.18 109.72,150.92 114.36,146.25 119.01,142.45 123.66,139.53 128.31,137.19 132.96,135.15 137.60,133.69 142.25,132.23 146.90,131.06 151.55,130.18 156.19,129.45 160.84,128.87 165.49,128.43 170.14,128.14 174.79,127.84 179.43,127.55 184.08,127.41 188.73,127.26 193.38,127.11 198.02,126.97 202.67,126.82 207.32,126.76 211.97,126.70 216.62,126.65 221.26,126.59 225.91,126.53 272.39,126.38 318.87,126.38 365.34,126.38 411.82,126.38 458.30,126.38" fill="none" stroke="#000000" stroke-width="0.72" stroke-linejoin="round"/>
<polygon points="58.59,79.54 56.60,82.99 60.58,82.99" fill="none" stroke="#000000" stroke-width="0.95"/>
<polygon points="63.24,143.80 61.25,147.25 65.23,147.25" fill="none" stroke="#000000" stroke-width="0.95"/>
<polygon points="67.89,175.49 65.89,178.94 69.88,178.94" fill="none" stroke="#000000" stroke-width="0.95"/>
<polygon points="72.53,188.64 70.54,192.09 74.53,192.09" fill="none" stroke="#000000" stroke-width="0.95"/>
<polygon points="77.18,191.56 75.19,195.01 79.17,195.01" fill="none" stroke="#000000" stroke-width="0.95"/>
<polygon points="81.83,187.18 79.84,190.63 83.82,190.63" fill="none" stroke="#000000" stroke-width="0.95"/>
<polygon points="86.48,180.46 84.49,183.91 88.47,183.91" fill="none" stroke="#000000" stroke-width="0.95"/>
<polygon points="91.13,173.74 89.13,177.19 93.12,177.19" fill="none" stroke="#000000" stroke-width="0.95"/>
<polygon points="95.77,167.02 93.78,170.47 97.77,170.47" fill="none" stroke="#000000" stroke-width="0.95"/>
<polygon points="100.42,160.30 98.43,163.75 102.41,163.75" fill="none" stroke="#000000" stroke-width="0.95"/>
<polygon points="105.07,153.88 103.08,157.33 107.06,157.33" fill="none" stroke="#000000" stroke-width="0.95"/>
<polygon points="109.72,148.62 107.72,152.07 111.71,152.07" fill="none" stroke="#000000" stroke-width="0.95"/>
<polygon points="114.36,143.95 112.37,147.40 116.36,147.40" fill="none" stroke="#000000" stroke-width="0.95"/>
<polygon points="119.01,140.15 117.02,143.60 121.00,143.60" fill="none" stroke="#000000" stroke-width="0.95"/>
<polygon points="123.66,137.23 121.67,140.68 125.65,140.68" fill="none" stroke="#000000" stroke-width="0.95"/>
<polygon points="128.31,134.89 126.32,138.34 130.30,138.34" fill="none" stroke="#000000" stroke-width="0.95"/>
<polygon points="132.96,132.85 130.96,136.30 134.95,136.30" fill="none" stroke="#000000" stroke-width="0.95"/>
<polygon points="137.60,131.39 135.61,134.84 139.60,134.84" fill="none" stroke="#000000" stroke-width="0.95"/>
<polygon points="142.25,129.93 140.26,133.38 144.24,133.38" fill="none" stroke="#000000" stroke-width="0.95"/>
<polygon points="146.90,128.76 144.91,132.21 148.89,132.21" fill="none" stroke="#000000" stroke-width="0.95"/>
<polygon points="151.55,127.88 149.55,131.33 153.54,131.33" fill="none" stroke="#000000" stroke-width="0.95"/>
<polygon points="156.19,127.15 154.20,130.60 158.19,130.60" fill="none" stroke="#000000" stroke-width="0.95"/>
<polygon points="160.84,126.57 158.85,130.02 162.83,130.02" fill="none" stroke="#000000" stroke-width="0.95"/>
<polygon points="165.49,126.13 163.50,129.58 167.48,129.58" fill="none" stroke="#000000" stroke-width="0.95"/>
<polygon points="170.14,125.84 168.15,129.29 172.13,129.29" fill="none" stroke="#000000" stroke-width="0.95"/>
<polygon points="174.79,125.54 172.79,128.99 176.78,128.99" fill="none" stroke="#000000" stroke-width="0.95"/>
<polygon points="179.43,125.25 177.44,128.70 181.43,128.70" fill="none" stroke="#000000" stroke-width="0.95"/>
<polygon points="184.08,125.11 182.09,128.56 186.07,128.56" fill="none" stroke="#000000" stroke-width="0.95"/>
<polygon points="188.73,124.96 186.74,128.41 190.72,128.41" fill="none" stroke="#000000" stroke-width="0.95"/>
<polygon points="193.38,124.81 191.38,128.26 195.37,128.26" fill="none" stroke="#000000" stroke-width="0.95"/>
<polygon points="198.02,124.67 196.03,128.12 200.02,128.12" fill="none" stroke="#000000" stroke-width="0.95"/>
<polygon points="202.67,124.52 200.68,127.97 204.66,127.97" fill="none" stroke="#000000" stroke-width="0.95"/>
<polygon points="207.32,124.46 205.33,127.91 209.31,127.91" fill="none" stroke="#000000" stroke-width="0.95"/>
<polygon points="211.97,124.40 209.98,127.85 213.96,127.85" fill="none" stroke="#000000" stroke-width="0.95"/>
<polygon points="216.62,124.35 214.62,127.80 218.61,127.80" fill="none" stroke="#000000" stroke-width="0.95"/>
<polygon points="221.26,124.29 219.27,127.74 223.26,127.74" fill="none" stroke="#000000" stroke-width="0.95"/>
<polygon points="225.91,124.23 223.92,127.68 227.90,127.68" fill="none" stroke="#000000" stroke-width="0.95"/>
<polygon points="272.39,124.08 270.40,127.53 274.38,127.53" fill="none" stroke="#000000" stroke-width="0.95"/>
<polygon points="318.87,124.08 316.87,127.53 320.86,127.53" fill="none" stroke="#000000" stroke-width="0.95"/>
<polygon points="365.34,124.08 363.35,127.53 367.34,127.53" fill="none" stroke="#000000" stroke-width="0.95"/>
<polygon points="411.82,124.08 409.83,127.53 413.81,127.53" fill="none" stroke="#000000" stroke-width="0.95"/>
<polygon points="458.30,124.08 456.31,127.53 460.29,127.53" fill="none" stroke="#000000" stroke-width="0.95"/>
<polyline clip-path="url(#c)" points="53.94,-23.90 58.59,81.25 63.24,145.52 67.89,176.19 72.53,189.33 77.18,192.25 81.83,187.87 86.48,181.15 91.13,174.43 95.77,167.72 100.42,161.00 105.07,154.57 109.72,149.31 114.36,144.64 119.01,140.84 123.66,137.92 128.31,135.58 132.96,133.54 137.60,132.08 142.25,130.62 146.90,129.45 151.55,128.57 156.19,127.84 160.84,127.26 165.49,126.82 170.14,126.53 174.79,126.24 179.43,125.95 184.08,125.80 188.73,125.65 193.38,125.51 198.02,125.36 202.67,125.22 207.32,125.16 211.97,125.10 216.62,125.04 221.26,124.98 225.91,124.92 272.39,124.78 318.87,124.78 365.34,124.78 411.82,124.78 458.30,124.78" fill="none" stroke="#9400d3" stroke-width="0.72" stroke-linejoin="round"/>
<polygon points="58.59,78.70 56.38,82.53 60.80,82.53" fill="#9400d3"/>
<polygon points="63.24,142.97 61.03,146.79 65.45,146.79" fill="#9400d3"/>
<polygon points="67.89,173.64 65.68,177.46 70.09,177.46" fill="#9400d3"/>
<polygon points="72.53,186.78 70.33,190.61 74.74,190.61" fill="#9400d3"/>
<polygon points="77.18,189.70 74.97,193.53 79.39,193.53" fill="#9400d3"/>
<polygon points="81.83,185.32 79.62,189.15 84.04,189.15" fill="#9400d3"/>
<polygon points="86.48,178.60 84.27,182.43 88.69,182.43" fill="#9400d3"/>
<polygon points="91.13,171.88 88.92,175.71 93.33,175.71" fill="#9400d3"/>
<polygon points="95.77,165.17 93.57,168.99 97.98,168.99" fill="#9400d3"/>
<polygon points="100.42,158.45 98.21,162.27 102.63,162.27" fill="#9400d3"/>
<polygon points="105.07,152.02 102.86,155.85 107.28,155.85" fill="#9400d3"/>
<polygon points="109.72,146.76 107.51,150.59 111.92,150.59" fill="#9400d3"/>
<polygon points="114.36,142.09 112.16,145.91 116.57,145.91" fill="#9400d3"/>
<polygon points="119.01,138.29 116.80,142.12 121.22,142.12" fill="#9400d3"/>
<polygon points="123.66,135.37 121.45,139.20 125.87,139.20" fill="#9400d3"/>
<polygon points="128.31,133.03 126.10,136.86 130.52,136.86" fill="#9400d3"/>
<polygon points="132.96,130.99 130.75,134.81 135.16,134.81" fill="#9400d3"/>
<polygon points="137.60,129.53 135.40,133.35 139.81,133.35" fill="#9400d3"/>
<polygon points="142.25,128.07 140.04,131.89 144.46,131.89" fill="#9400d3"/>
<polygon points="146.90,126.90 144.69,130.73 149.11,130.73" fill="#9400d3"/>
<polygon points="151.55,126.02 149.34,129.85 153.75,129.85" fill="#9400d3"/>
<polygon points="156.19,125.29 153.99,129.12 158.40,129.12" fill="#9400d3"/>
<polygon points="160.84,124.71 158.63,128.53 163.05,128.53" fill="#9400d3"/>
<polygon points="165.49,124.27 163.28,128.10 167.70,128.10" fill="#9400d3"/>
<polygon points="170.14,123.98 167.93,127.80 172.35,127.80" fill="#9400d3"/>
<polygon points="174.79,123.69 172.58,127.51 176.99,127.51" fill="#9400d3"/>
<polygon points="179.43,123.40 177.23,127.22 181.64,127.22" fill="#9400d3"/>
<polygon points="184.08,123.25 181.87,127.07 186.29,127.07" fill="#9400d3"/>
<polygon points="188.73,123.10 186.52,126.93 190.94,126.93" fill="#9400d3"/>
<polygon points="193.38,122.96 191.17,126.78 195.58,126.78" fill="#9400d3"/>
<polygon points="198.02,122.81 195.82,126.64 200.23,126.64" fill="#9400d3"/>
<polygon points="202.67,122.67 200.46,126.49 204.88,126.49" fill="#9400d3"/>
<polygon points="207.32,122.61 205.11,126.43 209.53,126.43" fill="#9400d3"/>
<polygon points="211.97,122.55 209.76,126.37 214.18,126.37" fill="#9400d3"/>
<polygon points="216.62,122.49 214.41,126.31 218.82,126.31" fill="#9400d3"/>
<polygon points="221.26,122.43 219.06,126.26 223.47,126.26" fill="#9400d3"/>
<polygon points="225.91,122.37 223.70,126.20 228.12,126.20" fill="#9400d3"/>
<polygon points="272.39,122.23 270.18,126.05 274.60,126.05" fill="#9400d3"/>
<polygon points="318.87,122.23 316.66,126.05 321.07,126.05" fill="#9400d3"/>
<polygon points="365.34,122.23 363.14,126.05 367.55,126.05" fill="#9400d3"/>
<polygon points="411.82,122.23 409.61,126.05 414.03,126.05" fill="#9400d3"/>
<polygon points="458.30,122.23 456.09,126.05 460.51,126.05" fill="#9400d3"/>
<polyline clip-path="url(#c)" points="53.94,-88.16 58.59,37.73 63.24,97.61 67.89,125.65 72.53,134.42 77.18,132.08 81.83,124.78 86.48,115.14 91.13,104.04 95.77,94.11 100.42,85.05 105.07,76.87 109.72,69.86 114.36,63.44 119.01,57.89 123.66,53.80 128.31,50.00 132.96,47.08 137.60,45.03 142.25,43.57 146.90,42.70 151.55,41.97 156.19,41.38 160.84,41.09 165.49,40.80 170.14,40.65 174.79,40.59 179.43,40.54 184.08,40.54 188.73,40.54 193.38,40.54 198.02,40.54 202.67,40.54 207.32,40.54 211.97,40.54 216.62,40.54 221.26,40.54 225.91,40.54 272.39,40.54 318.87,40.54 365.34,40.54 411.82,40.54 458.30,40.54" fill="none" stroke="#56b4e9" stroke-width="0.72" stroke-linejoin="round"/>
<polygon points="58.59,40.03 56.60,36.58 60.58,36.58" fill="none" stroke="#56b4e9" stroke-width="0.95"/>
<polygon points="63.24,99.91 61.25,96.46 65.23,96.46" fill="none" stroke="#56b4e9" stroke-width="0.95"/>
<polygon points="67.89,127.95 65.89,124.50 69.88,124.50" fill="none" stroke="#56b4e9" stroke-width="0.95"/>
<polygon points="72.53,136.72 70.54,133.27 74.53,133.27" fill="none" stroke="#56b4e9" stroke-width="0.95"/>
<polygon points="77.18,134.38 75.19,130.93 79.17,130.93" fill="none" stroke="#56b4e9" stroke-width="0.95"/>
<polygon points="81.83,127.08 79.84,123.63 83.82,123.63" fill="none" stroke="#56b4e9" stroke-width="0.95"/>
<polygon points="86.48,117.44 84.49,113.99 88.47,113.99" fill="none" stroke="#56b4e9" stroke-width="0.95"/>
<polygon points="91.13,106.34 89.13,102.89 93.12,102.89" fill="none" stroke="#56b4e9" stroke-width="0.95"/>
<polygon points="95.77,96.41 93.78,92.96 97.77,92.96" fill="none" stroke="#56b4e9" stroke-width="0.95"/>
<polygon points="100.42,87.35 98.43,83.90 102.41,83.90" fill="none" stroke="#56b4e9" stroke-width="0.95"/>
<polygon points="105.07,79.17 103.08,75.72 107.06,75.72" fill="none" stroke="#56b4e9" stroke-width="0.95"/>
<polygon points="109.72,72.16 107.72,68.71 111.71,68.71" fill="none" stroke="#56b4e9" stroke-width="0.95"/>
<polygon points="114.36,65.74 112.37,62.29 116.36,62.29" fill="none" stroke="#56b4e9" stroke-width="0.95"/>
<polygon points="119.01,60.19 117.02,56.74 121.00,56.74" fill="none" stroke="#56b4e9" stroke-width="0.95"/>
<polygon points="123.66,56.10 121.67,52.65 125.65,52.65" fill="none" stroke="#56b4e9" stroke-width="0.95"/>
<polygon points="128.31,52.30 126.32,48.85 130.30,48.85" fill="none" stroke="#56b4e9" stroke-width="0.95"/>
<polygon points="132.96,49.38 130.96,45.93 134.95,45.93" fill="none" stroke="#56b4e9" stroke-width="0.95"/>
<polygon points="137.60,47.33 135.61,43.88 139.60,43.88" fill="none" stroke="#56b4e9" stroke-width="0.95"/>
<polygon points="142.25,45.87 140.26,42.42 144.24,42.42" fill="none" stroke="#56b4e9" stroke-width="0.95"/>
<polygon points="146.90,45.00 144.91,41.55 148.89,41.55" fill="none" stroke="#56b4e9" stroke-width="0.95"/>
<polygon points="151.55,44.27 149.55,40.82 153.54,40.82" fill="none" stroke="#56b4e9" stroke-width="0.95"/>
<polygon points="156.19,43.68 154.20,40.23 158.19,40.23" fill="none" stroke="#56b4e9" stroke-width="0.95"/>
<polygon points="160.84,43.39 158.85,39.94 162.83,39.94" fill="none" stroke="#56b4e9" stroke-width="0.95"/>
<polygon points="165.49,43.10 163.50,39.65 167.48,39.65" fill="none" stroke="#56b4e9" stroke-width="0.95"/>
<polygon points="170.14,42.95 168.15,39.50 172.13,39.50" fill="none" stroke="#56b4e9" stroke-width="0.95"/>
<polygon points="174.79,42.89 172.79,39.44 176.78,39.44" fill="none" stroke="#56b4e9" stroke-width="0.95"/>
<polygon points="179.43,42.84 177.44,39.39 181.43,39.39" fill="none" stroke="#56b4e9" stroke-width="0.95"/>
<polygon points="184.08,42.84 182.09,39.39 186.07,39.39" fill="none" stroke="#56b4e9" stroke-width="0.95"/>
<polygon points="188.73,42.84 186.74,39.39 190.72,39.39" fill="none" stroke="#56b4e9" stroke-width="0.95"/>
<polygon points="193.38,42.84 191.38,39.39 195.37,39.39" fill="none" stroke="#56b4e9" stroke-width="0.95"/>
<polygon points="198.02,42.84 196.03,39.39 200.02,39.39" fill="none" stroke="#56b4e9" stroke-width="0.95"/>
<polygon points="202.67,42.84 200.68,39.39 204.66,39.39" fill="none" stroke="#56b4e9" stroke-width="0.95"/>
<polygon points="207.32,42.84 205.33,39.39 209.31,39.39" fill="none" stroke="#56b4e9" stroke-width="0.95"/>
<polygon points="211.97,42.84 209.98,39.39 213.96,39.39" fill="none" stroke="#56b4e9" stroke-width="0.95"/>
<polygon points="216.62,42.84 214.62,39.39 218.61,39.39" fill="none" stroke="#56b4e9" stroke-width="0.95"/>
<polygon points="221.26,42.84 219.27,39.39 223.26,39.39" fill="none" stroke="#56b4e9" stroke-width="0.95"/>
<polygon points="225.91,42.84 223.92,39.39 227.90,39.39" fill="none" stroke="#56b4e9" stroke-width="0.95"/>
<polygon points="272.39,42.84 270.40,39.39 274.38,39.39" fill="none" stroke="#56b4e9" stroke-width="0.95"/>
<polygon points="318.87,42.84 316.87,39.39 320.86,39.39" fill="none" stroke="#56b4e9" stroke-width="0.95"/>
<polygon points="365.34,42.84 363.35,39.39 367.34,39.39" fill="none" stroke="#56b4e9" stroke-width="0.95"/>
<polygon points="411.82,42.84 409.83,39.39 413.81,39.39" fill="none" stroke="#56b4e9" stroke-width="0.95"/>
<polygon points="458.30,42.84 456.31,39.39 460.29,39.39" fill="none" stroke="#56b4e9" stroke-width="0.95"/>
</g>
<text class="s" x="421.2" y="194.40" font-size="9.3" text-anchor="end">PBE</text>
<path d="M426.4 191.10H452.6" stroke="#009e73" stroke-width="0.72"/>
<path d="M437.30 191.10H441.70M439.50 188.90V193.30" stroke="#009e73" stroke-width="0.75" fill="none"/>
<text class="s" x="421.2" y="203.65" font-size="9.3" text-anchor="end">LC−ωPBE</text>
<path d="M426.4 200.35H452.6" stroke="#009e73" stroke-width="0.72"/>
<path d="M437.50 198.35L441.50 202.35M437.50 202.35L441.50 198.35" stroke="#009e73" stroke-width="0.95" fill="none"/>
<text class="s" x="421.2" y="212.90" font-size="9.3" text-anchor="end">ωB97</text>
<path d="M426.4 209.60H452.6" stroke="#56b4e9" stroke-width="0.72"/>
<path d="M437.50 209.60H441.50M439.50 207.60V211.60M437.50 207.60L441.50 211.60M437.50 211.60L441.50 207.60" stroke="#56b4e9" stroke-width="0.95" fill="none"/>
<text class="s" x="421.2" y="222.15" font-size="9.3" text-anchor="end">ωB97X</text>
<path d="M426.4 218.85H452.6" stroke="#e69f00" stroke-width="0.72"/>
<rect x="437.50" y="216.85" width="4.00" height="4.00" stroke="#e69f00" stroke-width="0.75" fill="none"/><path d="M439.50 216.85V220.85" stroke="#e69f00" stroke-width="0.95" opacity="0"/>
<text class="s" x="421.2" y="231.40" font-size="9.3" text-anchor="end">ωB97X−D</text>
<path d="M426.4 228.10H452.6" stroke="#f0e442" stroke-width="0.72"/>
<rect x="437.30" y="225.90" width="4.40" height="4.40" fill="#f0e442"/>
<text class="s" x="421.2" y="240.65" font-size="9.3" text-anchor="end">ωB97X−D3</text>
<path d="M426.4 237.35H452.6" stroke="#0072b2" stroke-width="0.72"/>
<circle cx="439.50" cy="237.35" r="2.00" stroke="#0072b2" stroke-width="0.95" fill="none"/>
<text class="s" x="421.2" y="249.90" font-size="9.3" text-anchor="end">SLC−LDA−D3</text>
<path d="M426.4 246.60H452.6" stroke="#e51e10" stroke-width="0.72"/>
<circle cx="439.50" cy="246.60" r="2.15" fill="#e51e10"/>
<text class="s" x="421.2" y="259.15" font-size="9.3" text-anchor="end">SLC−PBE−D3</text>
<path d="M426.4 255.85H452.6" stroke="#000000" stroke-width="0.72"/>
<polygon points="439.50,253.55 437.51,257.00 441.49,257.00" fill="none" stroke="#000000" stroke-width="0.95"/>
<text class="s" x="421.2" y="268.40" font-size="9.3" text-anchor="end">SLC−B97−D3</text>
<path d="M426.4 265.10H452.6" stroke="#9400d3" stroke-width="0.72"/>
<polygon points="439.50,262.55 437.29,266.38 441.71,266.38" fill="#9400d3"/>
<text class="s" x="421.2" y="277.65" font-size="9.3" text-anchor="end">CCSD(T)</text>
<path d="M426.4 274.35H452.6" stroke="#56b4e9" stroke-width="0.72"/>
<polygon points="439.50,276.65 437.51,273.20 441.49,273.20" fill="none" stroke="#56b4e9" stroke-width="0.95"/>
<path d="M39.4 11.25H459.0" stroke="#000" stroke-width="1.2"/><path d="M40.05 11.15V303.95" stroke="#000" stroke-width="1.3"/><path d="M39.4 303.35H459.0" stroke="#000" stroke-width="1.4"/><path d="M458.3 11.15V303.95" stroke="#000" stroke-width="1.4"/>
<text class="s" x="249.3" y="331" font-size="13" text-anchor="middle">R (Å)</text>
<text class="s" transform="translate(11.5,157) rotate(-90)" font-size="13.3" text-anchor="middle">E (kcal/mol)</text>
</svg></body></html>
